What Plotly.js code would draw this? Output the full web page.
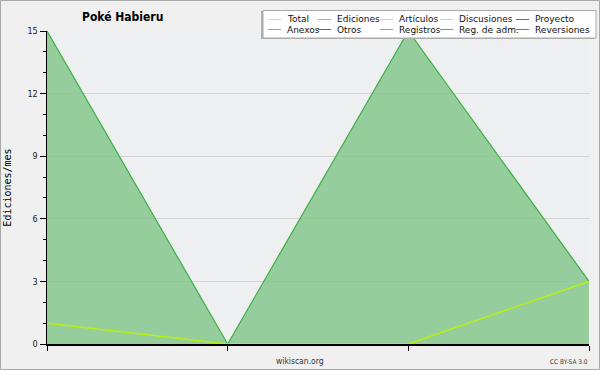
<!DOCTYPE html>
<html><head><meta charset="utf-8">
<script src="https://cdn.plot.ly/plotly-3.0.1.min.js"></script>
<style>body{margin:0;background:#f0f0f0}#c{width:600px;height:370px}</style>
</head><body><div id="c"></div>
<script>
const xIdx = [0, 1, 2, 3];
const ediciones = [15, 0, 15, 3];
const articulos = [1, 0, 0, 3];
const yTicks = [0, 3, 6, 9, 12, 15];
const legendNames = ["Total","Ediciones","Artículos","Discusiones","Proyecto","Anexos","Otros","Registros","Reg. de adm.","Reversiones"];
const legendColors = ["#a0e8e8","#80c880","#c8f040","#ffd040","#707070","#ff8040","#9040e0","#8090ff","#e050f0","#ff4040"];
const legendTextX = [285, 335, 397, 457, 533];

const W = 600, H = 370, L = 47, R = 11, T = 31, B = 26;
const pw = W - L - R, ph = H - T - B;
const px = v => (v - L) / pw;
const py = v => (H - B - v) / ph;

const shapes = [
  {type:'rect', xref:'paper', yref:'paper', x0:px(0.5), x1:px(599.5), y0:py(369.5), y1:py(0.5), line:{color:'#a8a8a8', width:1}, layer:'below'},
  {type:'rect', xref:'paper', yref:'paper', x0:px(261), x1:px(595), y0:py(39), y1:py(11), fillcolor:'#b0b0b0', line:{width:0}},
  {type:'rect', xref:'paper', yref:'paper', x0:px(263), x1:px(596), y0:py(38), y1:py(10.5), fillcolor:'#ffffff', line:{color:'#a8a8a8', width:1}}
];
const annotations = [
  {text:'<b>Poké Habieru</b>', xref:'paper', yref:'paper', x:px(122), y:py(17), showarrow:false, font:{family:'DejaVu Sans Condensed, DejaVu Sans', size:12, color:'#000'}, xanchor:'center', yanchor:'middle'},
  {text:'wikiscan.org', xref:'paper', yref:'paper', x:px(300), y:py(361), showarrow:false, font:{family:'DejaVu Sans Condensed, DejaVu Sans', size:8.5, color:'#333'}, xanchor:'center', yanchor:'middle'},
  {text:'CC BY-SA 3.0', xref:'paper', yref:'paper', x:px(590), y:py(362), showarrow:false, font:{family:'DejaVu Sans Condensed, DejaVu Sans', size:6.5, color:'#444'}, xanchor:'right', yanchor:'middle'}
];
legendNames.forEach((n, i) => {
  const col = i % 5, row = Math.floor(i / 5);
  const ty = row === 0 ? 19.5 : 29.5;
  const tx = legendTextX[col];
  shapes.push({type:'line', xref:'paper', yref:'paper', x0:px(tx - 17), x1:px(tx - 4), y0:py(ty), y1:py(ty), line:{color:legendColors[i], width:1}});
  annotations.push({text:n, xref:'paper', yref:'paper', x:px(tx), y:py(ty), showarrow:false, xanchor:'left', yanchor:'middle', font:{family:'DejaVu Sans', size:9, color:'#111'}});
});

const data = [
  {x:xIdx, y:ediciones, type:'scatter', mode:'lines', fill:'tozeroy', fillcolor:'rgba(128,196,136,0.8)', line:{color:'#3cb043', width:1.2}, name:'Ediciones', hoverinfo:'skip'},
  {x:xIdx, y:articulos, type:'scatter', mode:'lines', line:{color:'#b8f010', width:1.5}, name:'Artículos', hoverinfo:'skip'}
];
const layout = {
  width:W, height:H, paper_bgcolor:'#f0f0f0', plot_bgcolor:'#eeeff1',
  margin:{l:L, r:R, t:T, b:B, pad:0}, showlegend:false,
  xaxis:{range:[0,3], tickvals:xIdx, showticklabels:false, ticks:'outside', ticklen:5, tickcolor:'#000', showgrid:false, zeroline:false, showline:true, linecolor:'#000', linewidth:1.5, fixedrange:true},
  yaxis:{range:[0,15], tickvals:yTicks, ticks:'outside', ticklen:6, tickcolor:'#000', tickfont:{family:'DejaVu Sans Condensed, DejaVu Sans', size:9, color:'#222'}, showgrid:true, gridcolor:'#d4d4d4', gridwidth:1, zeroline:false, showline:true, linecolor:'#000', linewidth:1.5,
    minor:{dtick:1, ticks:'outside', ticklen:3, tickcolor:'#000', showgrid:false},
    title:{text:'Ediciones/mes', font:{family:'DejaVu Sans Mono', size:10, color:'#000'}, standoff:14}, fixedrange:true},
  shapes:shapes, annotations:annotations
};
Plotly.newPlot('c', data, layout, {displayModeBar:false, staticPlot:true});
</script></body></html>
